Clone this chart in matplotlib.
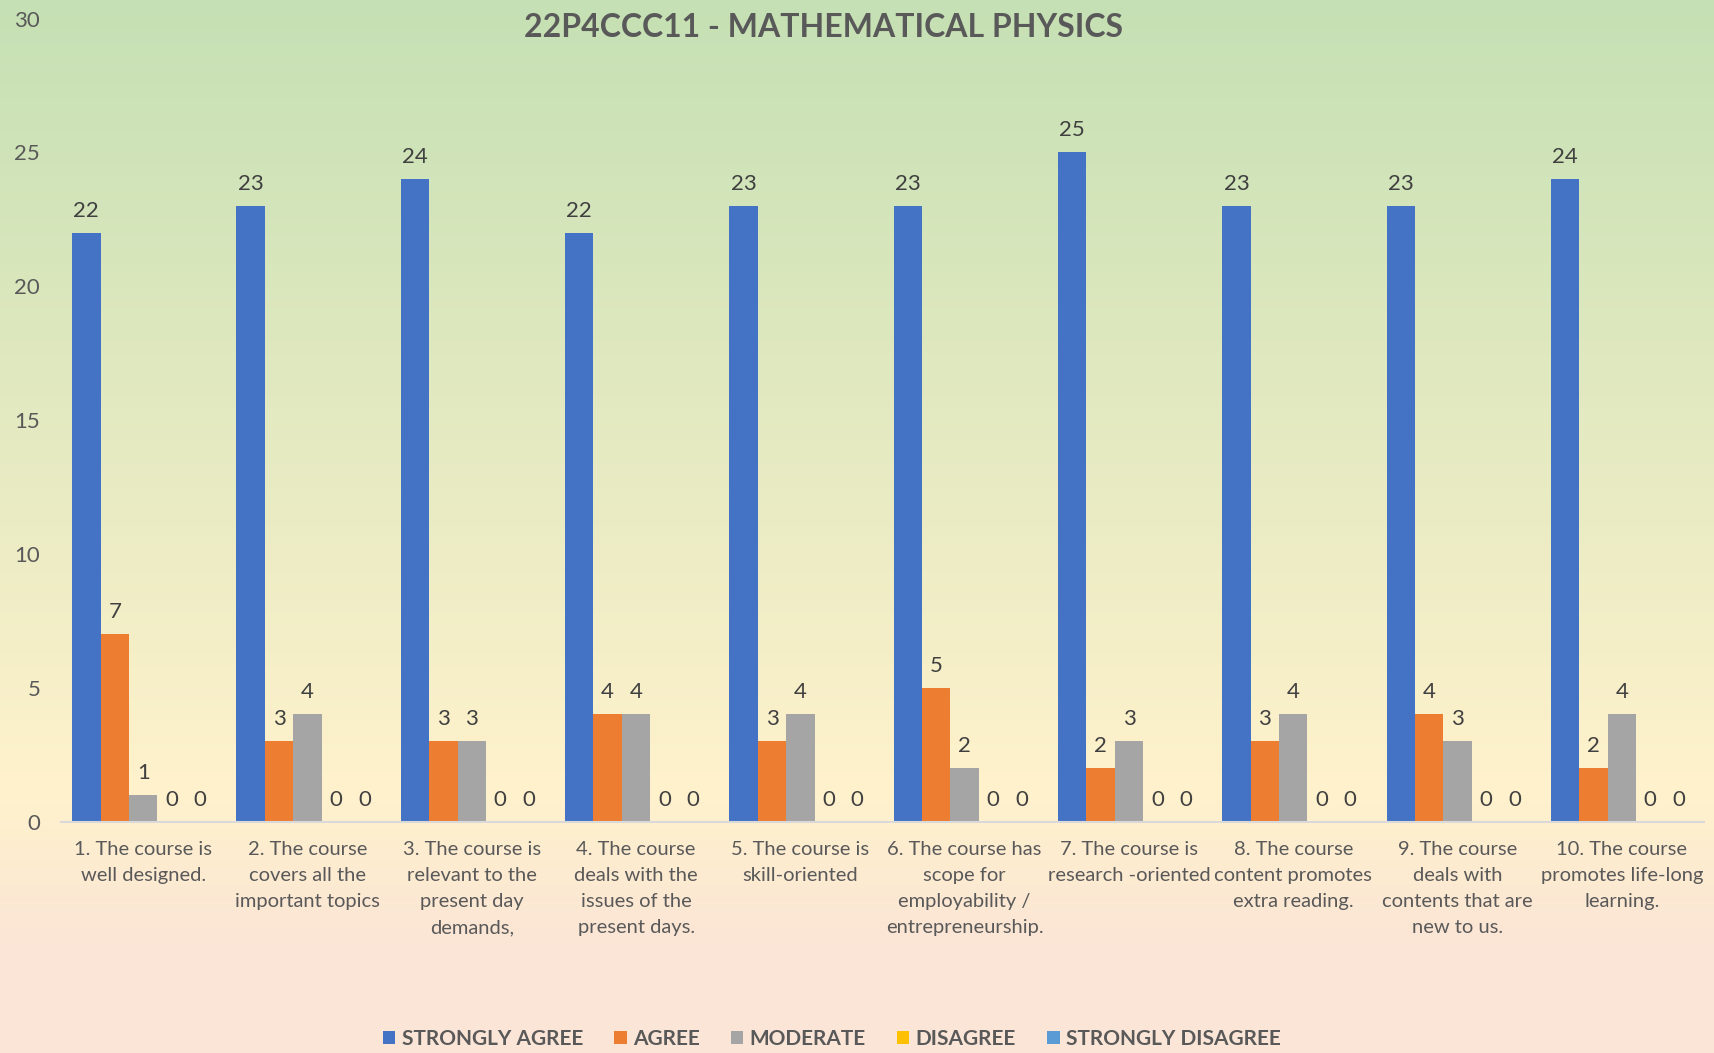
import matplotlib
matplotlib.use('Agg')
import matplotlib.pyplot as plt
import numpy as np
from matplotlib.colors import LinearSegmentedColormap

plt.rcParams['font.family'] = ['Lato', 'DejaVu Sans']

# данные
questions = [
    "1. The course is\nwell designed.",
    "2. The course\ncovers all the\nimportant topics",
    "3. The course is\nrelevant to the\npresent day\ndemands,",
    "4. The course\ndeals with the\nissues of the\npresent days.",
    "5. The course is\nskill-oriented",
    "6. The course has\nscope for\nemployability /\nentrepreneurship.",
    "7. The course is\nresearch -oriented",
    "8. The course\ncontent promotes\nextra reading.",
    "9. The course\ndeals with\ncontents that are\nnew to us.",
    "10. The course\npromotes life-long\nlearning.",
]
series_names = ["STRONGLY AGREE", "AGREE", "MODERATE", "DISAGREE", "STRONGLY DISAGREE"]
strongly_agree = [22, 23, 24, 22, 23, 23, 25, 23, 23, 24]
agree = [7, 3, 3, 4, 3, 5, 2, 3, 4, 2]
moderate = [1, 4, 3, 4, 4, 2, 3, 4, 3, 4]
disagree = [0, 0, 0, 0, 0, 0, 0, 0, 0, 0]
strongly_disagree = [0, 0, 0, 0, 0, 0, 0, 0, 0, 0]
colors = ['#4472C4', '#ED7D31', '#A5A5A5', '#FFC000', '#5B9BD5']

fig = plt.figure(figsize=(17.15, 10.53), dpi=100)

# градиентный фон
bg = fig.add_axes([0, 0, 1, 1], zorder=-1)
cmap = LinearSegmentedColormap.from_list('bg', [
    (0.0, '#C5E0B4'), (0.75, '#FFF2CC'), (0.9, '#FBE5D6'), (1.0, '#FBE5D6')])
grad = np.linspace(0, 1, 256).reshape(-1, 1)
bg.imshow(grad, aspect='auto', cmap=cmap, extent=[0, 1, 0, 1])
bg.axis('off')

ax = fig.add_axes([0.0356, 0.2198, 0.9580, 0.7625])
ax.set_facecolor('none')

x = np.arange(len(questions))
w = 0.173
all_series = [strongly_agree, agree, moderate, disagree, strongly_disagree]
for i, (vals, name) in enumerate(zip(all_series, series_names)):
    pos = x + (i - 2) * w
    ax.bar(pos, vals, width=w, color=colors[i], label=name, zorder=2)
    for p, v in zip(pos, vals):
        ax.text(p, v + 0.45, str(v), ha='center', va='bottom', fontsize=16, color='#404040')

ax.set_xlim(-0.5, len(questions) - 0.5)
ax.set_ylim(0, 30)
ax.set_yticks(range(0, 31, 5))
ax.set_xticks(x)
ax.set_xticklabels(questions, fontsize=14.5, color='#595959')
for t in ax.get_xticklabels():
    t.set_linespacing(1.65)
ax.tick_params(axis='y', length=0, labelsize=16, labelcolor='#595959', pad=15)
ax.tick_params(axis='x', length=0, pad=14)
for s in ['top', 'right', 'left']:
    ax.spines[s].set_visible(False)
ax.spines['bottom'].set_color('#D9D9D9')
ax.spines['bottom'].set_linewidth(1.5)

fig.text(0.48, 0.974, '22P4CCC11 - MATHEMATICAL PHYSICS', ha='center', va='center',
         fontsize=23, fontweight='bold', color='#595959')

leg = fig.legend(loc='lower center', bbox_to_anchor=(0.485, -0.014), ncol=5, frameon=False,
                 handlelength=0.6, handleheight=0.6, handletextpad=0.3, columnspacing=1.5,
                 prop={'size': 15, 'weight': 'bold'})
for t in leg.get_texts():
    t.set_color('#595959')

plt.savefig('out.png', dpi=100)
